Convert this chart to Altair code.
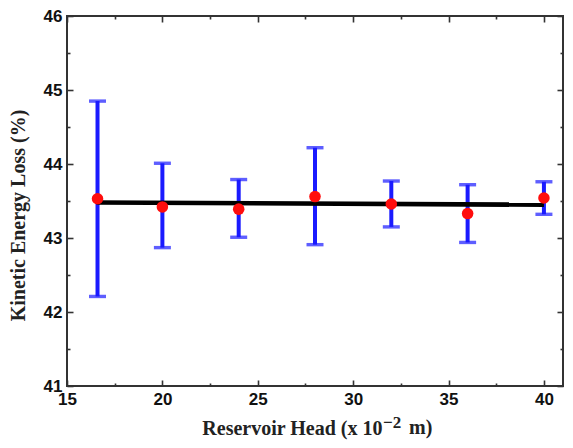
import altair as alt
import pandas as pd

# ---- data ----
head = [16.6, 20, 24, 28, 32, 36, 40]
loss = [43.53, 43.42, 43.39, 43.56, 43.46, 43.33, 43.54]
err_low = [42.21, 42.87, 43.01, 42.91, 43.15, 42.94, 43.32]
err_high = [44.85, 44.01, 43.79, 44.22, 43.77, 43.72, 43.76]
fit_x = [16.55, 40]
fit_y = [43.48, 43.45]
x_major = [15, 20, 25, 30, 35, 40]
x_minor = [17.5, 22.5, 27.5, 32.5, 37.5]
y_major = [41, 42, 43, 44, 45, 46]
y_minor = [41.5, 42.5, 43.5, 44.5, 45.5]
x_title_main = ["Reservoir Head (x 10"]
x_title_sup = ["\u22122"]
x_title_end = ["m)"]
y_title = "Kinetic Energy Loss (%)"

W, H = 496, 370

df = pd.DataFrame({"head": head, "loss": loss, "lo": err_low, "hi": err_high})
df_fit = pd.DataFrame({"head": fit_x, "loss": fit_y})

xs = alt.Scale(domain=[15, 41], nice=False, zero=False)
ys = alt.Scale(domain=[41, 46], nice=False, zero=False)

LABEL_FONT = "Liberation Sans"
TITLE_FONT = "Liberation Serif"
BLUE = "#1a1aff"
RED = "#ff0d0d"

x_main_axis = alt.Axis(orient="bottom", values=x_major, format="d", ticks=False, tickSize=0,
                       domain=False, grid=False, labelFont=LABEL_FONT, labelFontSize=17,
                       labelFontWeight="bold", labelColor="#111", labelPadding=5,
                       labelFlush=False,
                       title=x_title_main[0], titleFont=TITLE_FONT,
                       titleFontSize=20, titleFontWeight="bold", titleColor="#222",
                       titleAlign="right", titleBaseline="alphabetic",
                       titleX=315, titleY=48)
y_main_axis = alt.Axis(orient="left", values=y_major, format="d", ticks=False, tickSize=0,
                       domain=False, grid=False, labelFont=LABEL_FONT, labelFontSize=17,
                       labelFontWeight="bold", labelColor="#111", labelPadding=5,
                       labelFlush=False,
                       title=y_title, titleFont=TITLE_FONT,
                       titleFontSize=20, titleFontWeight="bold", titleColor="#222",
                       titleAngle=270, titleAlign="center", titleBaseline="alphabetic",
                       titleX=-43, titleY=199)

bars = alt.Chart(df).mark_rule(color=BLUE, strokeWidth=4).encode(
    x=alt.X("head:Q", scale=xs, axis=x_main_axis),
    y=alt.Y("lo:Q", scale=ys, axis=y_main_axis),
    y2="hi:Q",
)
cap_lo = alt.Chart(df).mark_tick(orient="horizontal", size=17, thickness=3.4, color=BLUE).encode(
    x=alt.X("head:Q", scale=xs, axis=None),
    y=alt.Y("lo:Q", scale=ys, axis=None),
)
cap_hi = alt.Chart(df).mark_tick(orient="horizontal", size=17, thickness=3.4, color=BLUE).encode(
    x=alt.X("head:Q", scale=xs, axis=None),
    y=alt.Y("hi:Q", scale=ys, axis=None),
)
fit = alt.Chart(df_fit).mark_line(color="black", strokeWidth=4.7).encode(
    x=alt.X("head:Q", scale=xs, axis=None),
    y=alt.Y("loss:Q", scale=ys, axis=None),
)
pts = alt.Chart(df).mark_circle(color=RED, size=133, opacity=1).encode(
    x=alt.X("head:Q", scale=xs, axis=None),
    y=alt.Y("loss:Q", scale=ys, axis=None),
)

# superscript and closing part of the x-axis title
sup = alt.Chart(pd.DataFrame({"t": x_title_sup})).mark_text(
    font=TITLE_FONT, fontSize=17, fontWeight="bold", color="#222",
    align="left", baseline="alphabetic",
).encode(x=alt.value(316), y=alt.value(412), text="t:N")
end = alt.Chart(pd.DataFrame({"t": x_title_end})).mark_text(
    font=TITLE_FONT, fontSize=20, fontWeight="bold", color="#222",
    align="left", baseline="alphabetic",
).encode(x=alt.value(342), y=alt.value(418), text="t:N")


def tick_axis(orient, values, size, offset):
    return alt.Axis(orient=orient, values=values, labels=False, ticks=True, tickSize=size,
                    tickWidth=1.6, tickColor="#333", domain=False, grid=False,
                    offset=offset, title=None)


def x_ticks(orient, values, size, offset):
    return alt.Chart(df).mark_point(opacity=0).encode(
        x=alt.X("head:Q", scale=xs, axis=tick_axis(orient, values, size, offset)),
        y=alt.Y("loss:Q", scale=ys, axis=None),
    )


def y_ticks(orient, values, size, offset):
    return alt.Chart(df).mark_point(opacity=0).encode(
        x=alt.X("head:Q", scale=xs, axis=None),
        y=alt.Y("loss:Q", scale=ys, axis=tick_axis(orient, values, size, offset)),
    )


tick_layers = [
    x_ticks("top", x_major, 6, -H),     # bottom edge, inward
    x_ticks("top", x_minor, 3, -H),
    x_ticks("bottom", x_major, 6, -H),  # top edge, inward
    x_ticks("bottom", x_minor, 3, -H),
    y_ticks("left", y_major, 6, -W),    # right edge, inward
    y_ticks("left", y_minor, 3, -W),
    y_ticks("right", y_major, 6, -W),   # left edge, inward
    y_ticks("right", y_minor, 3, -W),
]

chart = alt.layer(bars, cap_lo, cap_hi, fit, pts, sup, end, *tick_layers).resolve_axis(
    x="independent", y="independent"
).properties(
    width=W, height=H,
    autosize=alt.AutoSizeParams(type="none"),
    padding={"left": 59, "top": 8, "right": 2, "bottom": 54},
    background="white",
).configure_view(stroke="#333", strokeWidth=2)

chart.save("out.html", embed_options={"renderer": "svg", "actions": False})
